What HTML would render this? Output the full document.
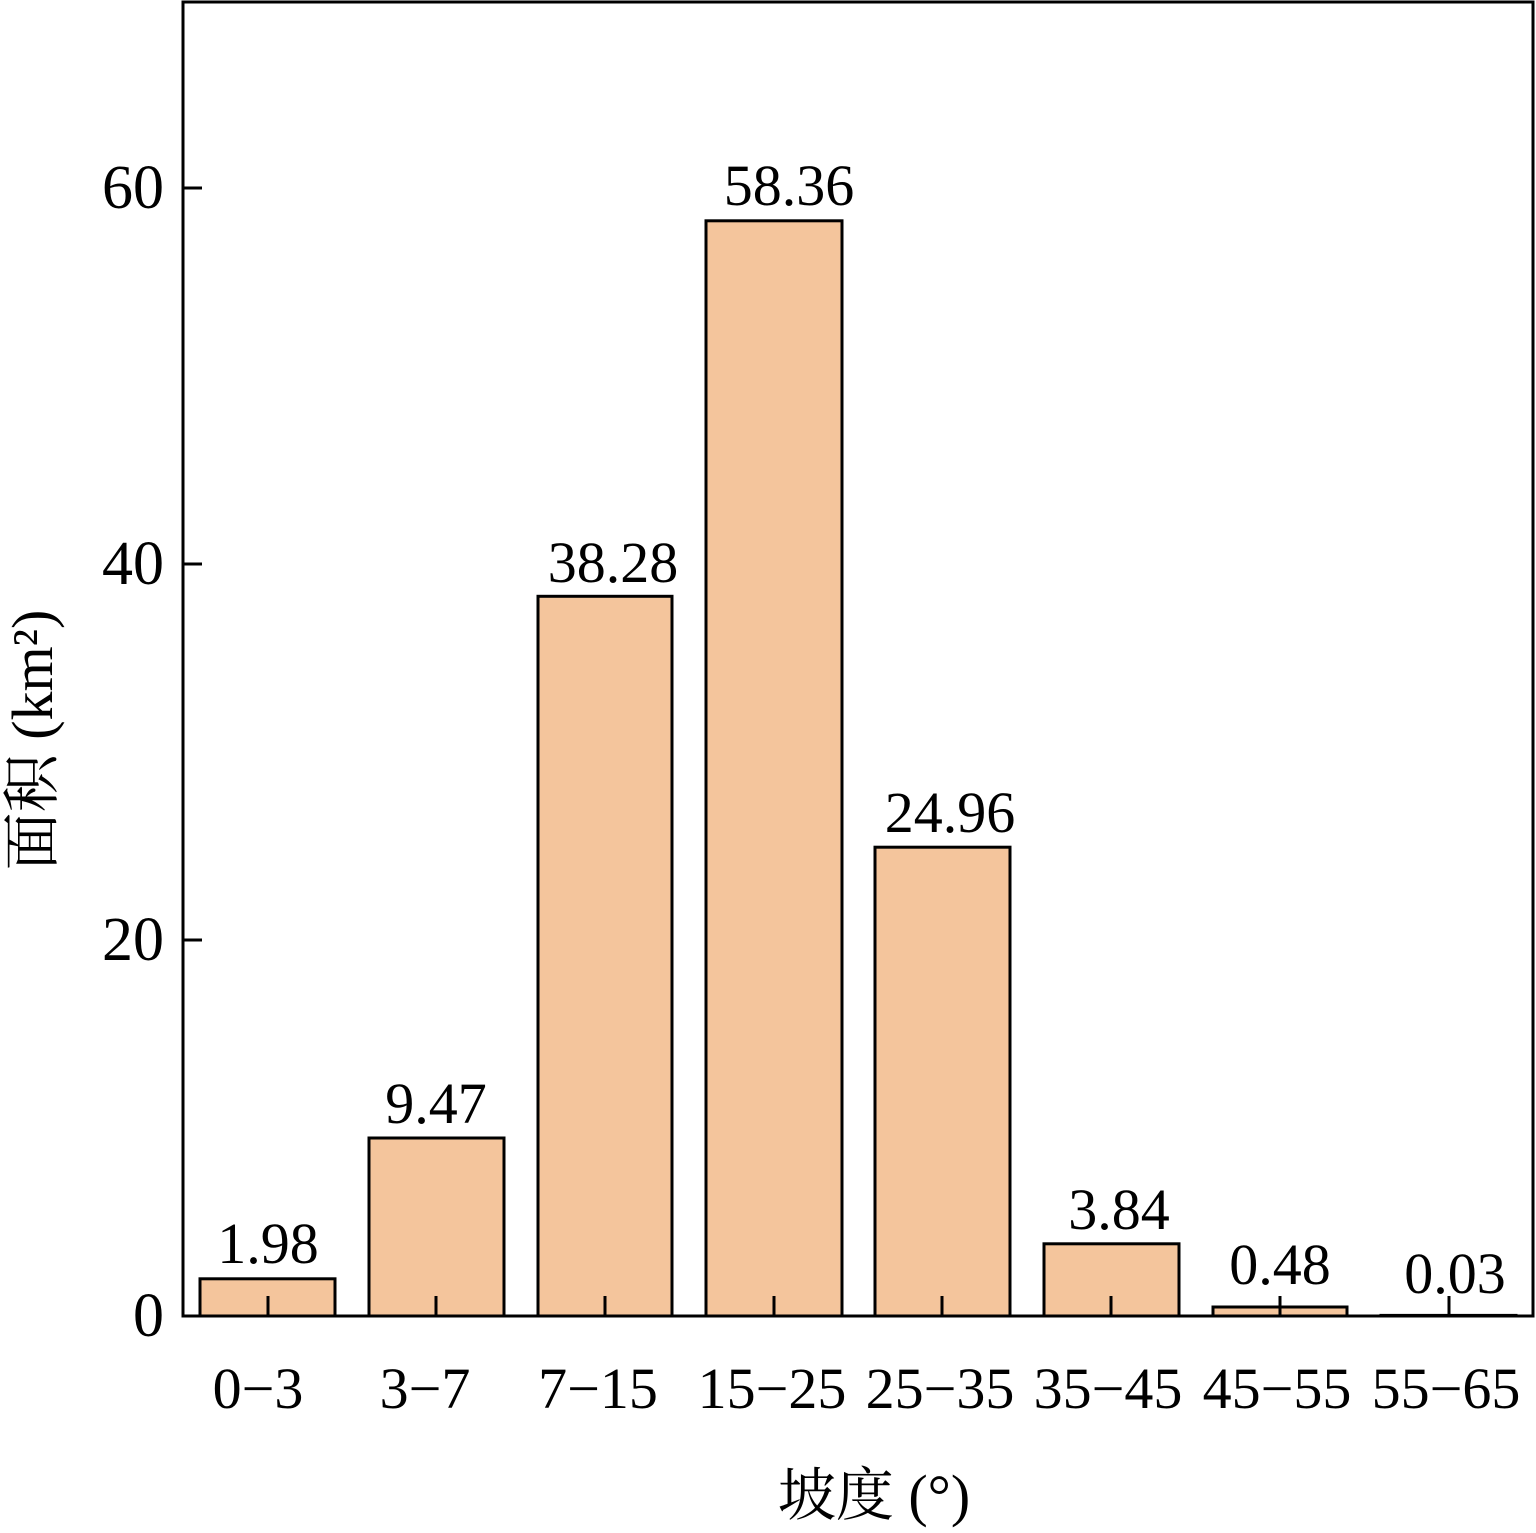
<!DOCTYPE html>
<html><head><meta charset="utf-8"><style>
html,body{margin:0;padding:0;background:#fff;}
svg text{font-family:"Liberation Serif","Noto Serif CJK SC","Noto Sans CJK SC",serif;fill:#000;}
</style></head><body>
<svg width="1536" height="1528" viewBox="0 0 1536 1528" xmlns="http://www.w3.org/2000/svg">
<g fill="#F4C59C" stroke="#000" stroke-width="3">
<rect x="200" y="1278.8" width="135" height="37.2"/>
<rect x="369" y="1138" width="135" height="178"/>
<rect x="538" y="596.3" width="134" height="719.7"/>
<rect x="706" y="220.8" width="136" height="1095.2"/>
<rect x="875" y="847.2" width="135" height="468.8"/>
<rect x="1044" y="1243.8" width="135" height="72.2"/>
<rect x="1213" y="1307" width="134" height="9"/>
<rect x="1381" y="1315.4" width="135" height="0.6"/>
</g>
<rect x="183" y="2" width="1350" height="1314" fill="none" stroke="#000" stroke-width="3"/>
<g stroke="#000" stroke-width="3">
<line x1="183" y1="188" x2="202" y2="188"/>
<line x1="183" y1="564" x2="202" y2="564"/>
<line x1="183" y1="940" x2="202" y2="940"/>
<line x1="268" y1="1316" x2="268" y2="1296"/>
<line x1="436" y1="1316" x2="436" y2="1296"/>
<line x1="605" y1="1316" x2="605" y2="1296"/>
<line x1="774" y1="1316" x2="774" y2="1296"/>
<line x1="942" y1="1316" x2="942" y2="1296"/>
<line x1="1111" y1="1316" x2="1111" y2="1296"/>
<line x1="1280" y1="1316" x2="1280" y2="1296"/>
<line x1="1449" y1="1316" x2="1449" y2="1296"/>
</g>
<g font-size="62" text-anchor="end">
<text x="164" y="208">60</text>
<text x="164" y="584">40</text>
<text x="164" y="960">20</text>
<text x="164" y="1336">0</text>
</g>
<g font-size="58" text-anchor="middle">
<text x="268" y="1263">1.98</text>
<text x="436" y="1123">9.47</text>
<text x="613" y="582">38.28</text>
<text x="789" y="205">58.36</text>
<text x="950" y="832">24.96</text>
<text x="1119" y="1229">3.84</text>
<text x="1280" y="1284">0.48</text>
<text x="1455" y="1293">0.03</text>
<text x="258" y="1408">0−3</text>
<text x="425" y="1408">3−7</text>
<text x="598" y="1408">7−15</text>
<text x="772" y="1408">15−25</text>
<text x="940" y="1408">25−35</text>
<text x="1108" y="1408">35−45</text>
<text x="1277" y="1408">45−55</text>
<text x="1446" y="1408">55−65</text>
<text x="874" y="1515">坡度 (°)</text>
<text transform="translate(52,740) rotate(-90)">面积 (km²)</text>
</g>
</svg>
</body></html>
